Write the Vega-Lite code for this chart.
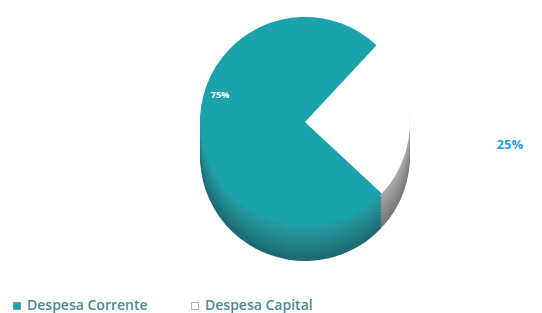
{
  "$schema": "https://vega.github.io/schema/vega-lite/v6.json",
  "width": 474,
  "height": 244,
  "autosize": "none",
  "padding": {"left": 68, "top": 0, "right": 0, "bottom": 69},
  "background": "white",
  "config": {"view": {"stroke": null}, "font": "Open Sans"},
  "data": {"values": [
    {"tipo": "Despesa Corrente", "valor": 75, "rotulo": "75%"},
    {"tipo": "Despesa Capital", "valor": 25, "rotulo": "25%"}
  ]},
  "encoding": {
    "theta": {"field": "valor", "type": "quantitative", "stack": true, "scale": {"range": [0.75, 7.033]}},
    "order": {"field": "valor", "type": "quantitative", "sort": "ascending"}
  },
  "layer": [
    {"mark": {"type": "arc", "radius": 105, "yOffset": 34},
     "encoding": {"color": {"field": "tipo", "type": "nominal", "legend": null,
       "scale": {"domain": ["Despesa Corrente", "Despesa Capital"], "range": ["#1c6a70", "#777777"]}}}},
    {"mark": {"type": "arc", "radius": 105, "yOffset": 31},
     "encoding": {"color": {"field": "tipo", "type": "nominal", "legend": null,
       "scale": {"domain": ["Despesa Corrente", "Despesa Capital"], "range": ["#1d6f76", "#7b7b7b"]}}}},
    {"mark": {"type": "arc", "radius": 105, "yOffset": 28},
     "encoding": {"color": {"field": "tipo", "type": "nominal", "legend": null,
       "scale": {"domain": ["Despesa Corrente", "Despesa Capital"], "range": ["#1e747b", "#808080"]}}}},
    {"mark": {"type": "arc", "radius": 105, "yOffset": 25},
     "encoding": {"color": {"field": "tipo", "type": "nominal", "legend": null,
       "scale": {"domain": ["Despesa Corrente", "Despesa Capital"], "range": ["#1f7980", "#858585"]}}}},
    {"mark": {"type": "arc", "radius": 105, "yOffset": 22},
     "encoding": {"color": {"field": "tipo", "type": "nominal", "legend": null,
       "scale": {"domain": ["Despesa Corrente", "Despesa Capital"], "range": ["#207e85", "#8a8a8a"]}}}},
    {"mark": {"type": "arc", "radius": 105, "yOffset": 19},
     "encoding": {"color": {"field": "tipo", "type": "nominal", "legend": null,
       "scale": {"domain": ["Despesa Corrente", "Despesa Capital"], "range": ["#21838a", "#8f8f8f"]}}}},
    {"mark": {"type": "arc", "radius": 105, "yOffset": 16},
     "encoding": {"color": {"field": "tipo", "type": "nominal", "legend": null,
       "scale": {"domain": ["Despesa Corrente", "Despesa Capital"], "range": ["#22878e", "#949494"]}}}},
    {"mark": {"type": "arc", "radius": 105, "yOffset": 13},
     "encoding": {"color": {"field": "tipo", "type": "nominal", "legend": null,
       "scale": {"domain": ["Despesa Corrente", "Despesa Capital"], "range": ["#238b92", "#999999"]}}}},
    {"mark": {"type": "arc", "radius": 105, "yOffset": 10},
     "encoding": {"color": {"field": "tipo", "type": "nominal", "legend": null,
       "scale": {"domain": ["Despesa Corrente", "Despesa Capital"], "range": ["#248f96", "#9e9e9e"]}}}},
    {"mark": {"type": "arc", "radius": 105, "yOffset": 7},
     "encoding": {"color": {"field": "tipo", "type": "nominal", "legend": null,
       "scale": {"domain": ["Despesa Corrente", "Despesa Capital"], "range": ["#25939a", "#a3a3a3"]}}}},
    {"mark": {"type": "arc", "radius": 105, "yOffset": 4},
     "encoding": {"color": {"field": "tipo", "type": "nominal", "legend": null,
       "scale": {"domain": ["Despesa Corrente", "Despesa Capital"], "range": ["#26979e", "#a8a8a8"]}}}},
    {"mark": {"type": "arc", "radius": 105},
     "encoding": {"color": {"field": "tipo", "type": "nominal",
       "scale": {"domain": ["Despesa Corrente", "Despesa Capital"], "range": ["#1aa3ad", "#ffffff"]},
       "legend": {"orient": "none", "legendX": -58, "legendY": 299, "direction": "horizontal", "title": null,
         "symbolType": "square", "symbolSize": 50, "symbolStrokeColor": "#666666", "symbolStrokeWidth": 0.5,
         "labelFont": "Open Sans", "labelFontSize": 14, "labelFontWeight": 600, "labelColor": "#4b8a98",
         "columnPadding": 40, "labelOffset": 3}}}},
    {"mark": {"type": "text", "radius": 85, "dy": -30, "fontSize": 9, "fontWeight": "bold", "color": "white"},
     "encoding": {"text": {"field": "rotulo"},
       "opacity": {"condition": {"test": "datum.tipo == 'Despesa Corrente'", "value": 1}, "value": 0}}},
    {"mark": {"type": "text", "radius": 205, "dy": 30, "fontSize": 13, "fontWeight": "bold", "color": "#2e9ee0"},
     "encoding": {"text": {"field": "rotulo"},
       "opacity": {"condition": {"test": "datum.tipo == 'Despesa Capital'", "value": 1}, "value": 0}}}
  ],
  "resolve": {"scale": {"color": "independent"}}
}
